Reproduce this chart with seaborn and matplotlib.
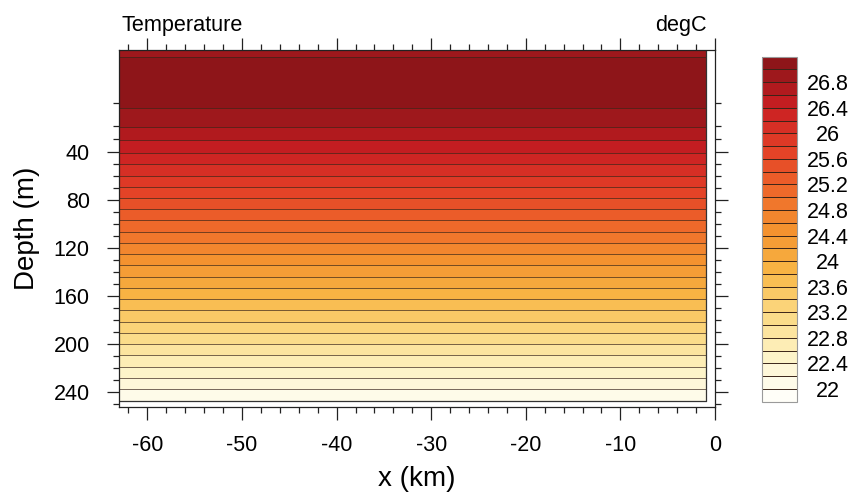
import numpy as np
import matplotlib
matplotlib.use("Agg")
import matplotlib.pyplot as plt
from matplotlib.colors import ListedColormap, BoundaryNorm
from matplotlib.ticker import FixedLocator, MultipleLocator
import seaborn as sns

# ---- data -------------------------------------------------------------
x_km = [-63.0, -1.0]
depth_m = [0, 2.5, 5, 7.5, 10, 15, 20,
           30, 40, 50, 60, 70, 80, 90, 100, 110, 120, 130, 140, 150,
           160, 170, 180, 190, 200, 210, 220, 230, 240, 247.5]
temp_c = [26.90, 27.08, 27.12, 27.10, 27.05, 26.93, 26.81,
          26.61, 26.41, 26.20, 25.99, 25.77, 25.56, 25.35, 25.13, 24.92,
          24.71, 24.50, 24.28, 24.07, 23.86, 23.64, 23.43, 23.22, 23.01,
          22.79, 22.58, 22.37, 22.16, 22.00]

contour_levels = [round(22.0 + 0.2 * i, 1) for i in range(26)]
cbar_ticks = [22, 22.4, 22.8, 23.2, 23.6, 24, 24.4, 24.8, 25.2, 25.6, 26, 26.4, 26.8]
cbar_ticklabels = ["22", "22.4", "22.8", "23.2", "23.6", "24", "24.4", "24.8",
                   "25.2", "25.6", "26", "26.4", "26.8"]
x_major = [-60, -50, -40, -30, -20, -10, 0]
y_major = [40, 80, 120, 160, 200, 240]

# ---- style ------------------------------------------------------------
sns.set_theme(style="ticks")
plt.rcParams["font.family"] = ["Liberation Sans", "DejaVu Sans"]
plt.rcParams["axes.unicode_minus"] = False
plt.rcParams["text.color"] = "black"
plt.rcParams["axes.labelcolor"] = "black"
plt.rcParams["xtick.labelcolor"] = "black"
plt.rcParams["ytick.labelcolor"] = "black"

palette = sns.blend_palette(
    ["#fffef8", "#fdf3c4", "#fbd880", "#f8b645", "#f4932f",
     "#ee662a", "#e23e27", "#c81e22", "#8e1519"],
    n_colors=len(contour_levels) + 1)
cmap = ListedColormap(palette[1:-1])
cmap.set_under(palette[0])
cmap.set_over(palette[-1])
norm = BoundaryNorm(contour_levels, cmap.N)

# irregular depth axis (stretched near the surface)
_knot_d = np.array([0.0, 10.0, 20.0, 30.0, 40.0, 240.0])
_knot_p = np.array([0.0, 52.7, 76.0, 89.0, 102.3, 341.7])
_s_lo = (_knot_p[1] - _knot_p[0]) / (_knot_d[1] - _knot_d[0])
_s_hi = (_knot_p[-1] - _knot_p[-2]) / (_knot_d[-1] - _knot_d[-2])


def depth_fwd(d):
    d = np.asarray(d, dtype=float)
    out = np.interp(d, _knot_d, _knot_p)
    out = np.where(d > _knot_d[-1], _knot_p[-1] + (d - _knot_d[-1]) * _s_hi, out)
    out = np.where(d < _knot_d[0], _knot_p[0] + (d - _knot_d[0]) * _s_lo, out)
    return out


def depth_inv(p):
    p = np.asarray(p, dtype=float)
    out = np.interp(p, _knot_p, _knot_d)
    out = np.where(p > _knot_p[-1], _knot_d[-1] + (p - _knot_p[-1]) / _s_hi, out)
    out = np.where(p < _knot_p[0], _knot_d[0] + (p - _knot_p[0]) / _s_lo, out)
    return out


# ---- figure -----------------------------------------------------------
W, H = 853, 497
fig = plt.figure(figsize=(W / 100, H / 100), dpi=100)
fig.patch.set_facecolor("white")
ax = fig.add_axes([119 / W, 1 - 407.3 / H, 596 / W, 357.3 / H])
ax.set_facecolor("white")
ax.set_yscale("function", functions=(depth_fwd, depth_inv))

X, Z = np.meshgrid(np.asarray(x_km), np.asarray(depth_m))
T = np.tile(np.asarray(temp_c)[:, None], (1, len(x_km)))

cs = ax.contourf(X, Z, T, levels=contour_levels, cmap=cmap, norm=norm, extend="both")
ax.contour(X, Z, T, levels=contour_levels, colors="#3a2418", linewidths=0.6, alpha=0.8)

# outline of the data region
xa, za = np.asarray(x_km), np.asarray(depth_m)
ax.plot([xa.max(), xa.max()], [za.min(), za.max()], color="#333333", lw=0.9)
ax.plot([xa.min(), xa.max()], [za.max(), za.max()], color="#333333", lw=0.9)

ax.set_xlim(-63, 0)
ax.set_ylim(253, 0)

ax.xaxis.set_major_locator(FixedLocator(x_major))
ax.xaxis.set_minor_locator(MultipleLocator(2))
ax.yaxis.set_major_locator(FixedLocator(y_major))
ax.yaxis.set_minor_locator(FixedLocator([d for d in range(10, 251, 10) if d not in y_major]))
ax.set_xticklabels([str(v) for v in x_major])
ax.set_yticklabels([str(v) for v in y_major])

ax.tick_params(which="both", direction="out", top=True, right=True,
               labeltop=False, labelright=False, color="#222222", width=0.9)
ax.tick_params(which="major", length=9, labelsize=15.5)
ax.tick_params(axis="x", which="major", pad=11)
ax.tick_params(axis="y", which="major", pad=12)
ax.tick_params(which="minor", length=4.5)
for s in ax.spines.values():
    s.set_color("#222222")
    s.set_linewidth(0.9)

ax.set_xlabel("x (km)", fontsize=20, labelpad=7)
ax.set_ylabel("Depth (m)", fontsize=20, labelpad=10)

fig.text(121 / W, 1 - 31 / H, "Temperature", fontsize=15.6, va="baseline", ha="left")
fig.text(707 / W, 1 - 31 / H, "degC", fontsize=15.6, va="baseline", ha="right")

# ---- colour bar -------------------------------------------------------
cax = fig.add_axes([762.3 / W, 1 - 401.7 / H, 34.4 / W, 345 / H])
cb = fig.colorbar(cs, cax=cax, ticks=cbar_ticks, drawedges=True,
                  extendrect=True, extendfrac=1 / 25)
cb.set_ticklabels(cbar_ticklabels)
cb.outline.set_edgecolor("#9a9a9a")
cb.outline.set_linewidth(0.8)
cb.dividers.set_color("#3a2418")
cb.dividers.set_linewidth(0.7)
cax.tick_params(length=0, pad=22.5, labelsize=15.5)
cax.yaxis.set_minor_locator(FixedLocator([]))
for t in cax.get_yticklabels():
    t.set_ha("center")

fig.savefig("out.png", dpi=100, facecolor="white")
